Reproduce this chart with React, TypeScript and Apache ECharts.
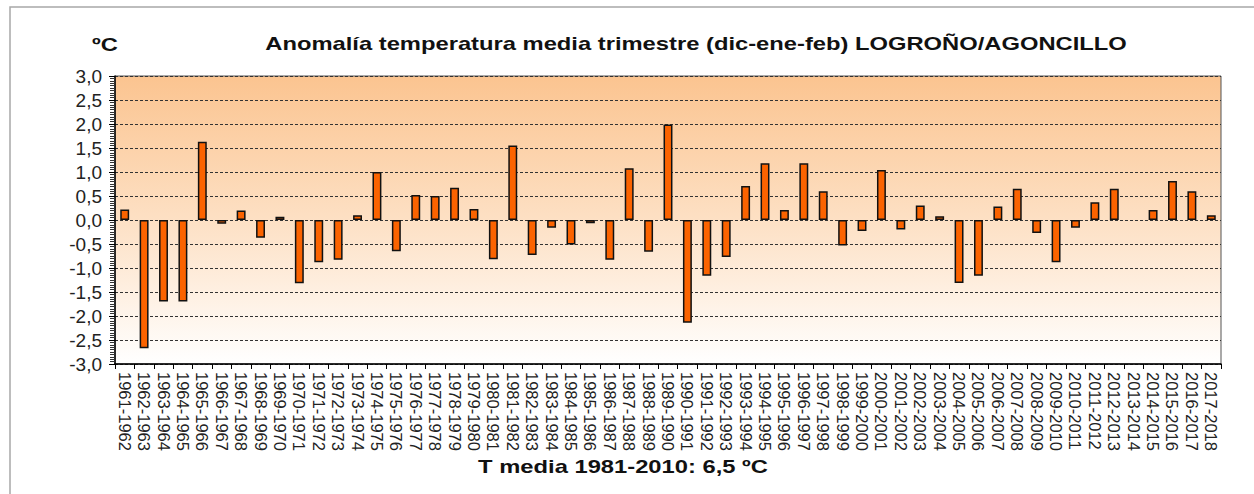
import React, { useEffect, useRef } from "react";
import * as echarts from "echarts";

const categories: string[] = [
  "1961-1962","1962-1963","1963-1964","1964-1965","1965-1966","1966-1967","1967-1968","1968-1969","1969-1970","1970-1971",
  "1971-1972","1972-1973","1973-1974","1974-1975","1975-1976","1976-1977","1977-1978","1978-1979","1979-1980","1980-1981",
  "1981-1982","1982-1983","1983-1984","1984-1985","1985-1986","1986-1987","1987-1988","1988-1989","1989-1990","1990-1991",
  "1991-1992","1992-1993","1993-1994","1994-1995","1995-1996","1996-1997","1997-1998","1998-1999","1999-2000","2000-2001",
  "2001-2002","2002-2003","2003-2004","2004-2005","2005-2006","2006-2007","2007-2008","2008-2009","2009-2010","2010-2011",
  "2011-2012","2012-2013","2013-2014","2014-2015","2015-2016","2016-2017","2017-2018",
];

const anomalies: (number | null)[] = [
  0.22, -2.67, -1.7, -1.7, 1.63, -0.08, 0.2, -0.37, 0.07, -1.32,
  -0.88, -0.83, 0.1, 1.0, -0.65, 0.52, 0.5, 0.67, 0.23, -0.82,
  1.55, -0.73, -0.16, -0.51, -0.07, -0.83, 1.08, -0.66, 1.99, -2.14,
  -1.16, -0.77, 0.71, 1.18, 0.21, 1.18, 0.6, -0.53, -0.23, 1.04,
  -0.2, 0.3, 0.08, -1.31, -1.16, 0.28, 0.65, -0.27, -0.88, -0.16,
  0.37, 0.65, null, 0.21, 0.81, 0.6, 0.1,
];

const titleText = "Anomalía temperatura media trimestre (dic-ene-feb) LOGROÑO/AGONCILLO";
const unitText = "ºC";
const footerText = "T media 1981-2010: 6,5 ºC";

export default function App() {
  const ref = useRef<HTMLDivElement>(null);
  useEffect(() => {
    document.body.style.margin = "0";
    const chart = echarts.init(ref.current!, null, { renderer: "svg" });
    const font = "'Liberation Sans', Arial, sans-serif";
    const boldText = (text: string, x: number, y: number) => ({
      type: "text",
      x,
      y,
      scaleX: 1.25,
      style: {
        text,
        fontFamily: font,
        fontWeight: "bold",
        fontSize: 19,
        fill: "#111",
        align: "center",
        verticalAlign: "middle",
      },
    });
    chart.setOption({
      animation: false,
      backgroundColor: "#ffffff",
      graphic: [
        {
          type: "rect",
          shape: { x: 10, y: 7, width: 1300, height: 600 },
          style: { fill: "none", stroke: "#a8a8a8", lineWidth: 1.5 },
          silent: true,
        },
        boldText(titleText, 696, 44),
        boldText(unitText, 105, 45),
        boldText(footerText, 623, 467),
      ],
      grid: {
        left: 115,
        right: 33,
        top: 76,
        height: 288,
        show: true,
        borderColor: "#555",
        borderWidth: 1,
        backgroundColor: new echarts.graphic.LinearGradient(0, 0, 0, 1, [
          { offset: 0, color: "#fbc490" },
          { offset: 0.5, color: "#fde0c4" },
          { offset: 1, color: "#ffffff" },
        ]),
      },
      xAxis: {
        type: "category",
        data: categories,
        boundaryGap: true,
        position: "bottom",
        axisLine: { onZero: false, lineStyle: { color: "#000", width: 1.5 } },
        axisTick: { show: true, interval: 0, length: 5, lineStyle: { color: "#000" } },
        axisLabel: {
          interval: 0,
          rotate: -90,
          fontFamily: font,
          fontSize: 16.5,
          color: "#222",
          margin: 8,
        },
        splitLine: { show: false },
      },
      yAxis: {
        type: "value",
        min: -3,
        max: 3,
        interval: 0.5,
        axisLine: { show: true, lineStyle: { color: "#000", width: 1.5 } },
        axisTick: { show: true, length: 6, lineStyle: { color: "#000" } },
        minorTick: { show: true, splitNumber: 10, length: 5, lineStyle: { color: "#333" } },
        axisLabel: {
          fontFamily: font,
          fontSize: 19,
          color: "#222",
          margin: 13,
          formatter: (v: number) => v.toFixed(1).replace(".", ","),
        },
        splitLine: {
          show: true,
          lineStyle: { color: "#333", width: 1, type: [3, 2] },
        },
      },
      series: [
        {
          type: "bar",
          data: anomalies,
          barWidth: "46%",
          itemStyle: {
            color: "#fb6300",
            borderColor: "#111",
            borderWidth: 1.5,
          },
        },
      ],
    });
    return () => chart.dispose();
  }, []);
  return <div ref={ref} style={{ width: 1254, height: 494 }} />;
}
